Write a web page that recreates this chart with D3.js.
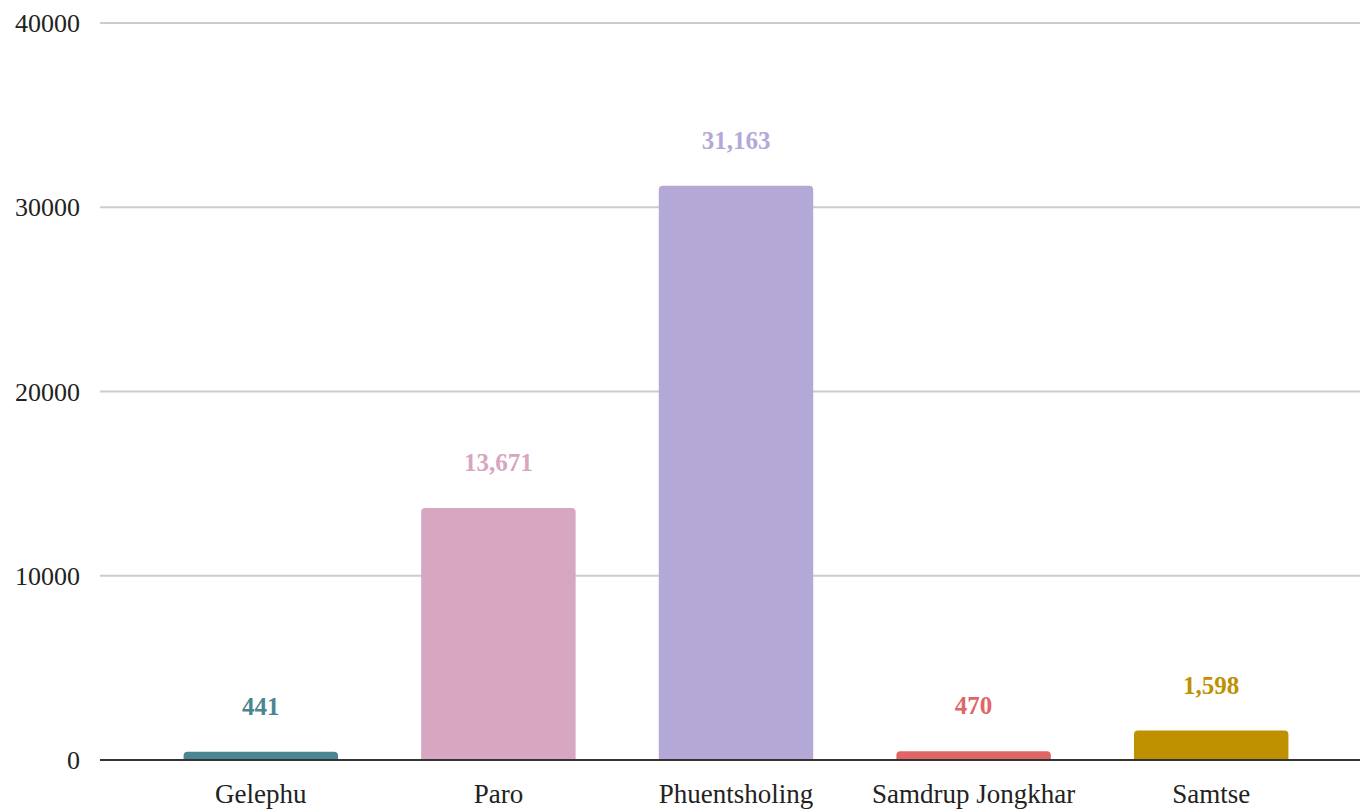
<!DOCTYPE html>
<html>
<head>
<meta charset="utf-8">
<script src="https://cdn.jsdelivr.net/npm/d3@7"></script>
<style>
  body { margin: 0; background: #fff; }
  text { font-family: "Liberation Serif", "DejaVu Serif", serif; }
</style>
</head>
<body>
<script>
var w = 1360;
var h = 812;

var categories = ['Gelephu', 'Paro', 'Phuentsholing', 'Samdrup Jongkhar', 'Samtse'];
var values = [441, 13671, 31163, 470, 1598];
var colors = ['#4a8591', '#d7a6c1', '#b4a8d6', '#e06666', '#bf9000'];
var yTicks = [0, 10000, 20000, 30000, 40000];

var svg = d3.select('body').append('svg').attr('width', w).attr('height', h);

var x = d3.scaleBand()
  .domain(categories)
  .range([142, 1330])
  .paddingInner(0.35)
  .paddingOuter(0.175);

var y = d3.scaleLinear().domain([0, 40000]).range([760, 23]);

// gridlines
svg.selectAll('line.grid')
  .data(yTicks.filter(function(d) { return d > 0; }))
  .enter()
  .append('line')
  .attr('class', 'grid')
  .attr('x1', 100)
  .attr('x2', w)
  .attr('y1', function(d) { return y(d); })
  .attr('y2', function(d) { return y(d); })
  .attr('stroke', '#cccccc')
  .attr('stroke-width', 2);

// y tick labels
svg.selectAll('text.ytick')
  .data(yTicks)
  .enter()
  .append('text')
  .attr('class', 'ytick')
  .attr('x', 80)
  .attr('y', function(d) { return y(d) + 9; })
  .attr('text-anchor', 'end')
  .attr('font-size', 26)
  .attr('fill', '#222')
  .text(function(d) { return d; });

// bars with rounded top corners
function barPath(x0, y0, bw, bh, r) {
  r = Math.min(r, bh);
  return 'M' + x0 + ',' + (y0 + bh) +
    'V' + (y0 + r) +
    'Q' + x0 + ',' + y0 + ' ' + (x0 + r) + ',' + y0 +
    'H' + (x0 + bw - r) +
    'Q' + (x0 + bw) + ',' + y0 + ' ' + (x0 + bw) + ',' + (y0 + r) +
    'V' + (y0 + bh) + 'Z';
}

svg.selectAll('path.bar')
  .data(values)
  .enter()
  .append('path')
  .attr('class', 'bar')
  .attr('d', function(d, i) {
    var top = y(d);
    return barPath(x(categories[i]), top, x.bandwidth(), y(0) - top, 4);
  })
  .attr('fill', function(d, i) { return colors[i]; });

// baseline
svg.append('line')
  .attr('x1', 100)
  .attr('x2', w)
  .attr('y1', y(0))
  .attr('y2', y(0))
  .attr('stroke', '#333333')
  .attr('stroke-width', 2);

// value labels
svg.selectAll('text.value')
  .data(values)
  .enter()
  .append('text')
  .attr('class', 'value')
  .attr('x', function(d, i) { return x(categories[i]) + x.bandwidth() / 2; })
  .attr('y', function(d) { return y(d) - 37; })
  .attr('text-anchor', 'middle')
  .attr('font-size', 25)
  .attr('font-weight', 'bold')
  .attr('fill', function(d, i) { return colors[i]; })
  .text(function(d) { return d3.format(',')(d); });

// category labels
svg.selectAll('text.cat')
  .data(categories)
  .enter()
  .append('text')
  .attr('class', 'cat')
  .attr('x', function(d) { return x(d) + x.bandwidth() / 2; })
  .attr('y', 803)
  .attr('text-anchor', 'middle')
  .attr('font-size', 27)
  .attr('fill', '#222')
  .text(function(d) { return d; });
</script>
</body>
</html>
